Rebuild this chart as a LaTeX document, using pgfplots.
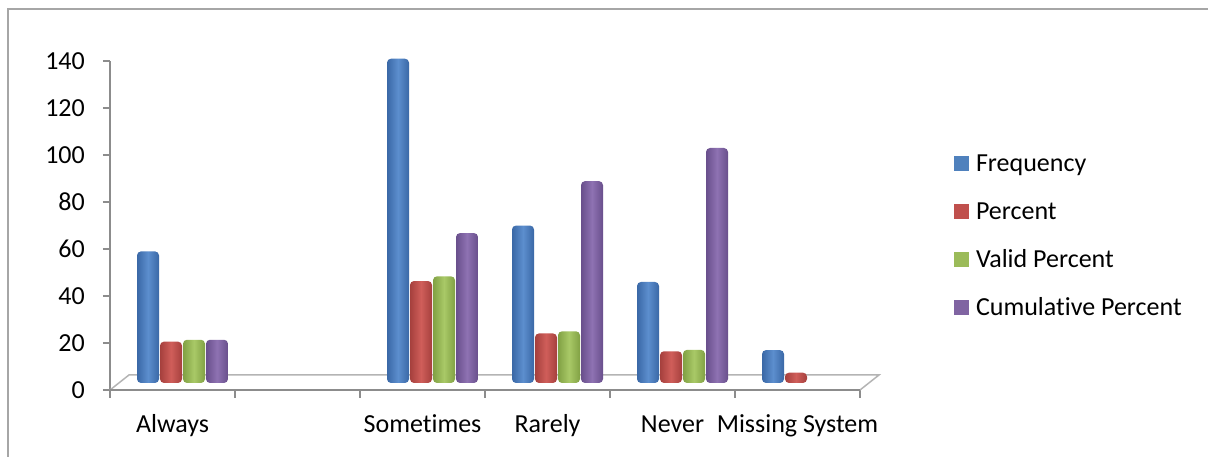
\documentclass[border=0pt]{standalone}
\usepackage{fontspec}
\setmainfont{Carlito}[Ligatures=NoCommon]
\usepackage{pgfplots}
\pgfplotsset{compat=1.18}

\definecolor{freqC}{HTML}{4F81BD}
\definecolor{freqD}{HTML}{3A68A6}
\definecolor{freqL}{HTML}{5C8ECE}
\definecolor{pctC}{HTML}{C0504D}
\definecolor{pctD}{HTML}{A5403D}
\definecolor{pctL}{HTML}{D05E5A}
\definecolor{valC}{HTML}{9BBB59}
\definecolor{valD}{HTML}{81A144}
\definecolor{valL}{HTML}{A9C967}
\definecolor{cumC}{HTML}{8064A2}
\definecolor{cumD}{HTML}{694F8C}
\definecolor{cumL}{HTML}{8E72B2}
\definecolor{axisC}{HTML}{8C8C8C}
\definecolor{floorC}{HTML}{B4B4B4}
\definecolor{frameC}{HTML}{A6A6A6}

\pgfplotsset{
  cyl/.style 2 args={draw=none, left color=#1, right color=#1, middle color=#2, rounded corners=4pt},
}
% one shaded cylinder-like bar: dark, light, bar shift, x, value
\newcommand{\cylbar}[5]{\addplot[cyl={#1}{#2}, bar shift=#3] coordinates {(#4,#5)};}

\begin{document}
\begin{tikzpicture}
\useasboundingbox (0pt,0pt) rectangle (1208pt,457pt);
\draw[line width=2pt, frameC] (7.5pt,0pt) -- (7.5pt,447.5pt) -- (1208pt,447.5pt);

% scale, category ticks, floor and legend
\begin{axis}[
  at={(110pt,67pt)}, anchor=south west,
  scale only axis, width=750pt, height=329pt,
  xmin=-0.5, xmax=5.5, ymin=0, ymax=140,
  clip=false,
  axis x line*=bottom, axis y line*=left,
  axis line style={draw=axisC, line width=1.5pt},
  ytick={0,20,...,140},
  xtick={0,1,2,3,4,5},
  xticklabels={Always,{},Sometimes,Rarely,Never,Missing System},
  minor xtick={-0.5,0.5,1.5,2.5,3.5,4.5,5.5},
  tick align=outside,
  major tick length=7pt, minor tick length=8pt,
  tick style={draw=axisC, line width=1.5pt},
  major x tick style={draw=none},
  font=\fontsize{26}{31}\selectfont,
  /pgf/number format/assume math mode=true,
  yticklabel style={anchor=east, inner sep=0pt, xshift=-18pt},
  xticklabel style={anchor=base, inner sep=0pt, yshift=-36pt},
  legend style={at={(axis description cs:1.12533,0.73708)}, anchor=north west,
    draw=none, fill=none, inner sep=0pt, outer sep=0pt,
    nodes={inner sep=0pt, outer sep=0pt, text height=24pt, text depth=24pt, anchor=base west},
    /tikz/every odd column/.append style={column sep=7pt},
    font=\fontsize{26}{31}\selectfont},
  legend cell align=left,
  legend image code/.code={\fill[#1] (0pt,0pt) rectangle (15pt,15.5pt);},
]
\draw[floorC, line width=1.5pt] (axis cs:-0.5,0) -- (axis cs:-0.348,6.4) -- (axis cs:5.652,6.4) -- (axis cs:5.5,0);
\draw[axisC, line width=1.5pt] (axis cs:-0.5,0) -- (axis cs:5.5,0);
\addlegendimage{fill=freqC, draw=none}\addlegendentry{Frequency}
\addlegendimage{fill=pctC, draw=none}\addlegendentry{Percent}
\addlegendimage{fill=valC, draw=none}\addlegendentry{Valid Percent}
\addlegendimage{fill=cumC, draw=none}\addlegendentry{Cumulative Percent}
\end{axis}

% the bars, standing in the middle of the floor depth
\begin{axis}[
  at={(120pt,74pt)}, anchor=south west,
  scale only axis, width=750pt, height=329pt,
  xmin=-0.5, xmax=5.5, ymin=0, ymax=140,
  hide axis, clip=false,
  ybar, bar width=22pt,
]
% Frequency
\cylbar{freqD}{freqL}{-34.5pt}{0}{56}
\cylbar{freqD}{freqL}{-34.5pt}{2}{138}
\cylbar{freqD}{freqL}{-34.5pt}{3}{67}
\cylbar{freqD}{freqL}{-34.5pt}{4}{43}
\cylbar{freqD}{freqL}{-34.5pt}{5}{14}
% Percent
\cylbar{pctD}{pctL}{-11.5pt}{0}{17.6}
\cylbar{pctD}{pctL}{-11.5pt}{2}{43.4}
\cylbar{pctD}{pctL}{-11.5pt}{3}{21.1}
\cylbar{pctD}{pctL}{-11.5pt}{4}{13.5}
\cylbar{pctD}{pctL}{-11.5pt}{5}{4.4}
% Valid Percent
\cylbar{valD}{valL}{11.5pt}{0}{18.4}
\cylbar{valD}{valL}{11.5pt}{2}{45.4}
\cylbar{valD}{valL}{11.5pt}{3}{22.0}
\cylbar{valD}{valL}{11.5pt}{4}{14.1}
% Cumulative Percent
\cylbar{cumD}{cumL}{34.5pt}{0}{18.4}
\cylbar{cumD}{cumL}{34.5pt}{2}{63.8}
\cylbar{cumD}{cumL}{34.5pt}{3}{85.9}
\cylbar{cumD}{cumL}{34.5pt}{4}{100.0}
\end{axis}
\end{tikzpicture}
\end{document}
